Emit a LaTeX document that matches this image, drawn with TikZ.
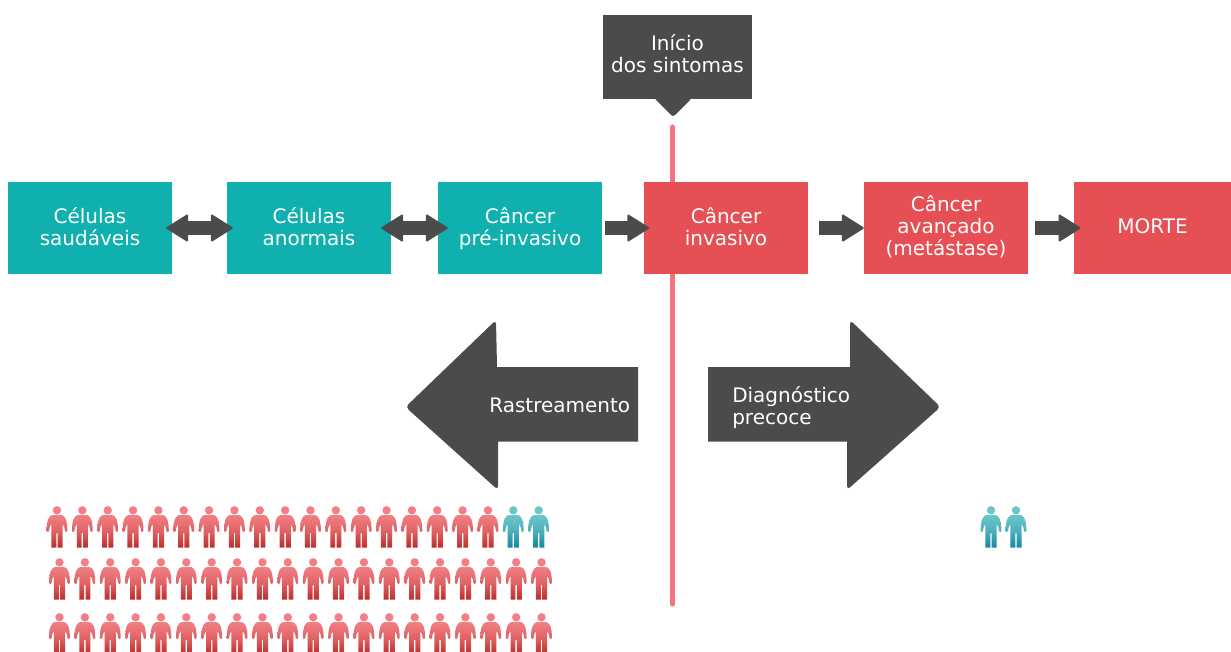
\documentclass[tikz,border=0pt]{standalone}
\usepackage{fontspec}
\setmainfont{DejaVu Sans}
\usetikzlibrary{arrows.meta}

\definecolor{tealbox}{HTML}{0FB0AD}
\definecolor{redbox}{HTML}{E64F54}
\definecolor{darkgrey}{HTML}{4A4C4B}
\definecolor{pinkline}{HTML}{F4747F}
\definecolor{redtop}{HTML}{F27F84}
\definecolor{redfoot}{HTML}{BC2C2A}
\definecolor{tealtop}{HTML}{6CC6C8}
\definecolor{tealfoot}{HTML}{1285A2}

\tikzset{
	stagebox/.style={text=white,minimum width=123pt,minimum height=69pt,inner sep=0pt,align=center,text depth=2.5pt,font=\stagefont},
	healthy/.style={stagebox,fill=tealbox},
	sick/.style={stagebox,fill=redbox},
	flowarrow/.style={line width=10.5pt,draw=darkgrey,-{Triangle[length=17pt,width=21pt,round,line width=1.5pt]}},
	bothways/.style={flowarrow,{Triangle[length=17pt,width=21pt,round,line width=1.5pt]}-{Triangle[length=17pt,width=21pt,round,line width=1.5pt]}},
	bigarrow/.style={fill=darkgrey},
	arrowlabel/.style={text=white,inner sep=0pt,align=left,font=\stagefont},
	pics/person/.style 2 args={code={
		\fill[#1] (0,4.3) circle (4.2);
		\shade[top color=#1,bottom color=#2,middle color=#1!65!#2]
			(0,9) -- (-4.5,9) .. controls (-8,9.5) and (-10.4,14) .. (-10.4,25)
			.. controls (-10.4,26.4) and (-8,26.4) .. (-8,25)
			.. controls (-8,22) and (-7,20) .. (-5.6,18)
			-- (-5.6,41.7) -- (-0.7,41.7) -- (-0.7,27) -- (0.7,27) -- (0.7,41.7) -- (5.6,41.7) -- (5.6,18)
			.. controls (7,20) and (8,22) .. (8,25)
			.. controls (8,26.4) and (10.4,26.4) .. (10.4,25)
			.. controls (10.4,14) and (8,9.5) .. (4.5,9) -- cycle;
	}}
}
\newcommand{\stagefont}{\fontsize{15pt}{16.5pt}\selectfont}

\begin{document}
\begin{tikzpicture}[x=.75pt,y=-.75pt]
	\useasboundingbox (0,0) rectangle (1231,651);

	\coordinate (linetop) at (672.5,127);
	\coordinate (linebottom) at (672.5,604);
	\draw[pinkline,line width=4pt,line cap=round] (linetop) -- (linebottom);

	% symptoms flag
	\node[fill=darkgrey,text=white,minimum width=111.75pt,minimum height=63pt,inner sep=0pt,align=center,text depth=5.5pt,font=\stagefont] (sintomas) at (677.5,57) {Início\\dos sintomas};
	\fill[darkgrey,rounded corners=2pt] (654,98) -- (692,98) -- (673,117) -- cycle;

	\node[healthy] (saudaveis) at (90,228) {Células\\saudáveis};
	\node[healthy] (anormais) at (309,228) {Células\\anormais};
	\node[healthy] (preinvasivo) at (520,228) {Câncer\\pré-invasivo};
	\node[sick] (invasivo) at (726,228) {Câncer\\invasivo};
	\node[sick,text depth=3.5pt] (avancado) at (946,228) {Câncer\\avançado\\(metástase)};
	\node[sick,minimum width=117.75pt] (morte) at (1152.5,228) {MORTE};

	\draw[bothways,shorten <=-4.5pt,shorten >=-4.5pt] (saudaveis) -- (anormais);
	\draw[bothways,shorten <=-7.5pt,shorten >=-7.5pt] (anormais) -- (preinvasivo);
	\draw[flowarrow,shorten <=2pt,shorten >=-4pt] (preinvasivo) -- (invasivo);
	\draw[flowarrow,shorten <=8pt] (invasivo) -- (avancado);
	\draw[flowarrow,shorten <=5pt,shorten >=-5pt] (avancado) -- (morte);

	% big arrows
	\fill[bigarrow] (638,367) -- (497,367) [rounded corners=3pt] -- (496,320) -- (405.5,407) -- (498,490) [sharp corners] -- (498,441.5) -- (638,441.5) -- cycle;
	\fill[bigarrow] (708,367) -- (850,367) [rounded corners=3pt] -- (850,320) -- (940.5,407) -- (847,490) [sharp corners] -- (847,441.5) -- (708,441.5) -- cycle;
	\node[arrowlabel,anchor=west] (rastreamento) at (489,405.5) {Rastreamento};
	\node[arrowlabel,anchor=west] (diagnostico) at (732,408) {Diagnóstico\\precoce};

	% people
	\foreach \i in {0,...,17}
		\pic at ({57+25.35*\i},506) {person={redtop}{redfoot}};
	\foreach \i in {18,19}
		\pic at ({57+25.35*\i},506) {person={tealtop}{tealfoot}};
	\foreach \y in {558,613}
		\foreach \i in {0,...,19}
			\pic at ({59.5+25.37*\i},\y) {person={redtop}{redfoot}};
	\foreach \x in {991,1016}
		\pic at (\x,506) {person={tealtop}{tealfoot}};
\end{tikzpicture}
\end{document}
